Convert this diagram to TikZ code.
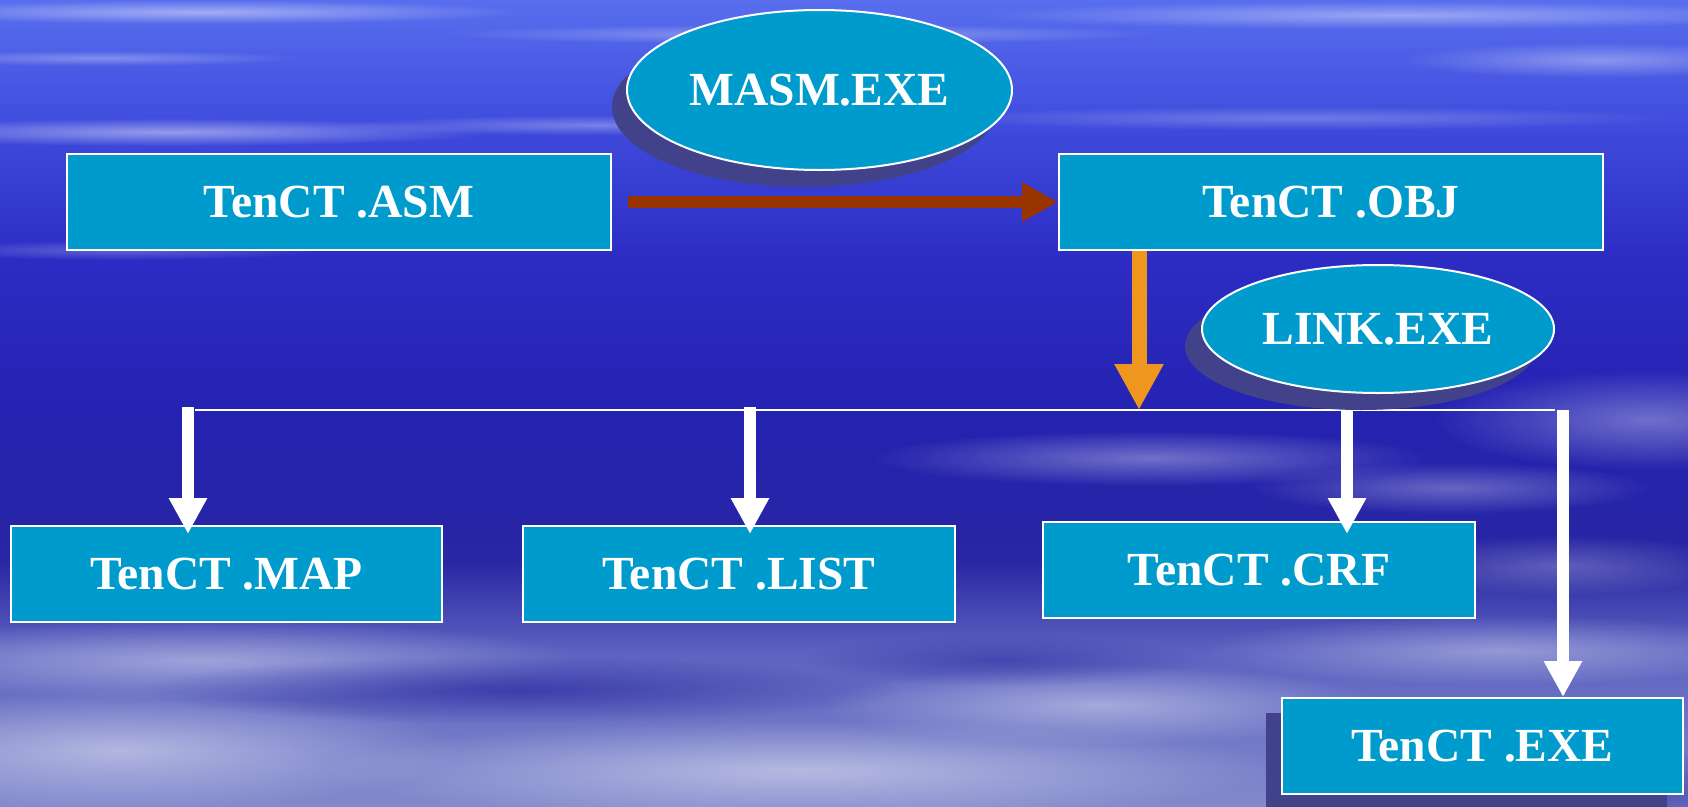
\documentclass[tikz,border=0pt]{standalone}
\usepackage{fontspec}
\setmainfont{Liberation Serif}
\usetikzlibrary{arrows.meta,shapes.geometric,fadings,shadows}

\definecolor{boxblue}{RGB}{0,155,205}
\definecolor{shadowc}{RGB}{66,66,138}
\definecolor{brownarr}{RGB}{153,51,0}
\definecolor{orangearr}{RGB}{238,150,30}
\definecolor{bgA}{RGB}{88,110,238}
\definecolor{bgB}{RGB}{62,74,220}
\definecolor{bgC}{RGB}{44,44,196}
\definecolor{bgD}{RGB}{36,34,176}
\definecolor{bgE}{RGB}{40,38,162}
\definecolor{bgF}{RGB}{92,98,192}
\definecolor{bgG}{RGB}{130,138,204}
\definecolor{darkpatch}{RGB}{44,42,160}
\tikzfading[name=softedge, inner color=transparent!0, outer color=transparent!100]

\begin{document}
\begin{tikzpicture}[x=1pt,y=-1pt,
  every node/.style={text=white, font=\bfseries\fontsize{47.5}{57}\selectfont, inner sep=0pt},
  filebox/.style={rectangle, draw=white, line width=2pt, fill=boxblue, minimum width=#1, minimum height=96pt},
  toolell/.style={ellipse, draw=white, line width=2pt, fill=boxblue},
  cloud/.style={fill=white, path fading=softedge},
  dark/.style={fill=darkpatch, path fading=softedge},
  warrow/.style={draw=white, line width=12pt, -{Triangle[length=36pt,width=36pt]}},
  brownconn/.style={draw=brownarr, line width=12pt, -{Triangle[length=36pt,width=37pt]}},
  orangeconn/.style={draw=orangearr, line width=15pt, -{Triangle[length=46pt,width=46pt]}},
  busline/.style={draw=white, line width=2.5pt}
]
\useasboundingbox (0,0) rectangle (1688,806);
% background
\shade[top color=bgA, bottom color=bgB] (0,0) rectangle (1688,131);
\shade[top color=bgB, bottom color=bgC] (0,130) rectangle (1688,261);
\shade[top color=bgC, bottom color=bgD] (0,260) rectangle (1688,421);
\shade[top color=bgD, bottom color=bgE] (0,420) rectangle (1688,561);
\shade[top color=bgE, bottom color=bgF] (0,560) rectangle (1688,651);
\shade[top color=bgF, bottom color=bgG] (0,650) rectangle (1688,806);
% streaks and clouds
\fill[cloud, fill opacity=0.45] (200,12) ellipse [x radius=320pt, y radius=12pt];
\fill[cloud, fill opacity=0.35] (800,34) ellipse [x radius=360pt, y radius=10pt];
\fill[cloud, fill opacity=0.40] (1400,15) ellipse [x radius=420pt, y radius=14pt];
\fill[cloud, fill opacity=0.30] (100,58) ellipse [x radius=200pt, y radius=8pt];
\fill[cloud, fill opacity=0.35] (1600,60) ellipse [x radius=200pt, y radius=18pt];
\fill[cloud, fill opacity=0.45] (170,132) ellipse [x radius=320pt, y radius=14pt];
\fill[cloud, fill opacity=0.30] (600,125) ellipse [x radius=260pt, y radius=10pt];
\fill[cloud, fill opacity=0.25] (1300,118) ellipse [x radius=380pt, y radius=12pt];
\fill[cloud, fill opacity=0.25] (120,250) ellipse [x radius=200pt, y radius=10pt];
\fill[cloud, fill opacity=0.35] (1650,420) ellipse [x radius=220pt, y radius=50pt];
\fill[cloud, fill opacity=0.35] (1150,458) ellipse [x radius=280pt, y radius=28pt];
\fill[cloud, fill opacity=0.30] (1450,488) ellipse [x radius=200pt, y radius=26pt];
\fill[cloud, fill opacity=0.25] (1560,565) ellipse [x radius=180pt, y radius=30pt];
\fill[cloud, fill opacity=0.40] (200,660) ellipse [x radius=380pt, y radius=40pt];
\fill[cloud, fill opacity=0.45] (120,750) ellipse [x radius=340pt, y radius=60pt];
\fill[cloud, fill opacity=0.45] (800,770) ellipse [x radius=480pt, y radius=50pt];
\fill[cloud, fill opacity=0.40] (1100,705) ellipse [x radius=280pt, y radius=40pt];
\fill[cloud, fill opacity=0.35] (1500,650) ellipse [x radius=300pt, y radius=35pt];
\fill[dark, fill opacity=0.7] (520,690) ellipse [x radius=380pt, y radius=34pt];
\fill[dark, fill opacity=0.6] (1620,795) ellipse [x radius=240pt, y radius=50pt];
\fill[dark, fill opacity=0.5] (1000,660) ellipse [x radius=200pt, y radius=26pt];

% file boxes
\node[filebox=544pt] (asm) at (339,202) {TenCT .ASM};
\node[filebox=544pt] (obj) at (1331,202) {TenCT .OBJ};
\node[filebox=431pt] (map) at (226.5,574) {TenCT .MAP};
\node[filebox=432pt] (list) at (739,574) {TenCT .LIST};
\node[filebox=432pt] (crf) at (1259,570) {TenCT .CRF};
\node[filebox=401pt, drop shadow={shadow xshift=-16pt, shadow yshift=-15pt, fill=shadowc, opacity=1}] (exe) at (1482.5,746) {TenCT .EXE};

% connectors
\draw[brownconn] ([xshift=16pt]asm.east) -- (obj.west);
\coordinate (hub) at (1139,410);
\draw[orangeconn] (obj.south -| hub) -- (hub);
\coordinate (busL) at (195,410);
\coordinate (busR) at (1555,410);
\draw[busline] (busL) -- (busR);
\coordinate (dMap) at (188,407);
\coordinate (dList) at (750,407);
\coordinate (dCrf) at (1347,407);
\coordinate (dExe) at (1563,410);
\draw[warrow] (dMap) -- ([yshift=-9pt]dMap |- map.north);
\draw[warrow] (dList) -- ([yshift=-9pt]dList |- list.north);
\draw[warrow] (dCrf) -- ([yshift=-13pt]dCrf |- crf.north);
\draw[warrow] (dExe) -- (dExe |- exe.north);

% tools
\node[toolell, minimum width=385pt, minimum height=160pt, drop shadow={shadow xshift=-15pt, shadow yshift=-17pt, fill=shadowc, opacity=1}] (masm) at (819.5,90) {MASM.EXE};
\node[toolell, minimum width=352pt, minimum height=128pt, drop shadow={shadow xshift=-17pt, shadow yshift=-17pt, fill=shadowc, opacity=1}] (link) at (1378,329) {LINK.EXE};
\end{tikzpicture}
\end{document}
